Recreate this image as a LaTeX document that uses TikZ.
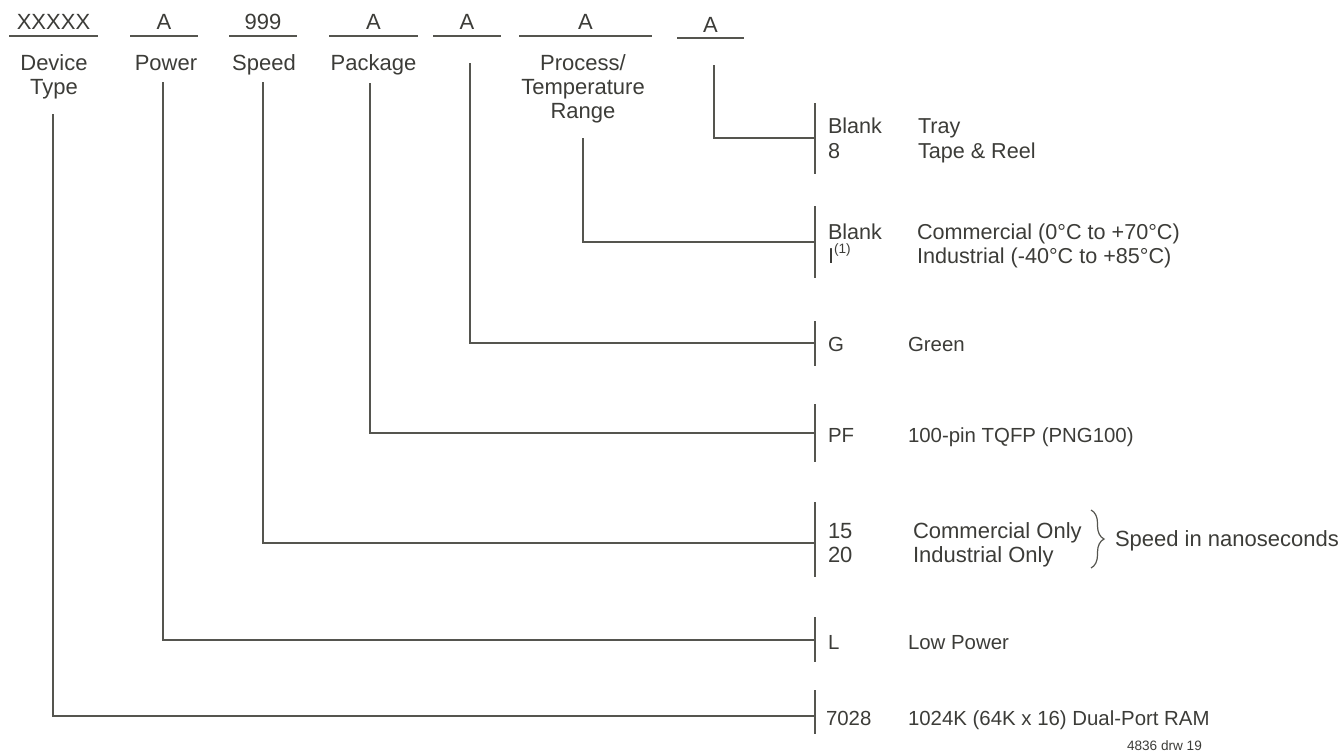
\documentclass[tikz,border=0pt]{standalone}
\usepackage{fontspec}
\setmainfont{Liberation Sans}
\usetikzlibrary{decorations.pathreplacing}
\definecolor{ink}{HTML}{3C3C38}
\definecolor{wirec}{HTML}{55554F}
\begin{document}
\begin{tikzpicture}[x=0.5pt,y=-0.5pt,
  txt/.style={inner sep=0pt, outer sep=0pt, text=ink, font=\fontsize{10.2}{12}\selectfont},
  big/.style={font=\fontsize{11}{13}\selectfont},
  mid/.style={font=\fontsize{10.8}{13}\selectfont},
  lbl/.style={txt, big, anchor=base},
  lft/.style={txt, anchor=base west},
  wire/.style={draw=wirec, line width=0.75pt},
  bar/.style={draw=wirec, line width=0.75pt}]
\useasboundingbox (0,0) rectangle (1343,752);

% top row codes
\node[lbl] (cX) at (53.5,29) {XXXXX};
\node[lbl] (cP) at (164,29) {A};
\node[lbl] (cS) at (263,29) {999};
\node[lbl] (cK) at (373.5,29) {A};
\node[lbl] (cG) at (467,29) {A};
\node[lbl] (cT) at (585.5,29) {A};
\node[lbl] (cR) at (710.5,32) {A};
\draw[wire] (9,36) -- (98,36);
\draw[wire] (130,36) -- (198,36);
\draw[wire] (229,36) -- (297,36);
\draw[wire] (329,36) -- (418,36);
\draw[wire] (433,36) -- (501,36);
\draw[wire] (519,36) -- (652,36);
\draw[wire] (677,38) -- (744,38);

% field names
\node[lbl] (nDev) at (54,70) {Device};
\node[lbl] (nType) at (54,94) {Type};
\node[lbl] (nPow) at (166,70) {Power};
\node[lbl] (nSpd) at (264,70) {Speed};
\node[lbl] (nPkg) at (373.5,70) {Package};
\node[lbl] (nProc) at (583,70) {Process/};
\node[lbl] (nTemp) at (583,94) {Temperature};
\node[lbl] (nRange) at (583,118) {Range};

% connector start points
\coordinate (tDev) at (53,114);
\coordinate (tPow) at (163,82);
\coordinate (tSpd) at (263,82);
\coordinate (tPkg) at (370,83);
\coordinate (tGrn) at (470,63);
\coordinate (tTmp) at (583,138);
\coordinate (tTry) at (714,65);

% bars (end points of connectors)
\coordinate (bTry) at (815,138);
\coordinate (bTmp) at (815,242);
\coordinate (bGrn) at (815,343);
\coordinate (bPkg) at (815,433);
\coordinate (bSpd) at (815,543);
\coordinate (bPow) at (815,640);
\coordinate (bDev) at (815,716);
\draw[bar] (815,103) -- (815,174);
\draw[bar] (815,206) -- (815,278);
\draw[bar] (815,321) -- (815,366);
\draw[bar] (815,404) -- (815,462);
\draw[bar] (815,502) -- (815,577);
\draw[bar] (815,617) -- (815,662);
\draw[bar] (815,690) -- (815,734);

\draw[wire] (tDev) |- (bDev);
\draw[wire] (tPow) |- (bPow);
\draw[wire] (tSpd) |- (bSpd);
\draw[wire] (tPkg) |- (bPkg);
\draw[wire] (tGrn) |- (bGrn);
\draw[wire] (tTmp) |- (bTmp);
\draw[wire] (tTry) |- (bTry);

% option codes and descriptions
\node[lft, mid] (oB1) at (828,133) {Blank};
\node[lft, mid] (o8) at (828,158) {8};
\node[lft, mid] (dTray) at (918,133) {Tray};
\node[lft, mid] (dTape) at (918,158) {Tape \& Reel};

\node[lft, mid] (oB2) at (828,239) {Blank};
\node[lft, mid] (oI) at (828,263) {I\raisebox{0.85ex}{\fontsize{6.8}{7}\selectfont(1)}};
\node[lft, mid] (dCom) at (917,239) {Commercial (0°C to +70°C)};
\node[lft, mid] (dInd) at (917,263) {Industrial (-40°C to +85°C)};

\node[lft] (oG) at (828,351) {G};
\node[lft] (dG) at (908,351) {Green};

\node[lft] (oPF) at (828,442) {PF};
\node[lft] (dPF) at (908,442) {100-pin TQFP (PNG100)};

\node[lft, big] (o15) at (828,538) {15};
\node[lft, big] (o20) at (828,562) {20};
\node[lft, big] (dCO) at (913,538) {Commercial Only};
\node[lft, big] (dIO) at (913,562) {Industrial Only};
\coordinate (brT) at (1091,510);
\coordinate (brB) at (1091,568);
\draw[wire, line width=0.6pt, decorate, decoration={brace, amplitude=6.5pt}] (brT) -- (brB);
\node[lft, big] (dSpd) at (1115,546) {Speed in nanoseconds};

\node[lft] (oL) at (828,649) {L};
\node[lft] (dL) at (908,649) {Low Power};

\node[lft] (o7028) at (826,725) {7028};
\node[lft] (d7028) at (908,725) {1024K (64K x 16) Dual-Port RAM};

\node[txt, anchor=base west, font=\fontsize{6.8}{8}\selectfont] (drw) at (1127,750) {4836 drw 19};
\end{tikzpicture}
\end{document}
